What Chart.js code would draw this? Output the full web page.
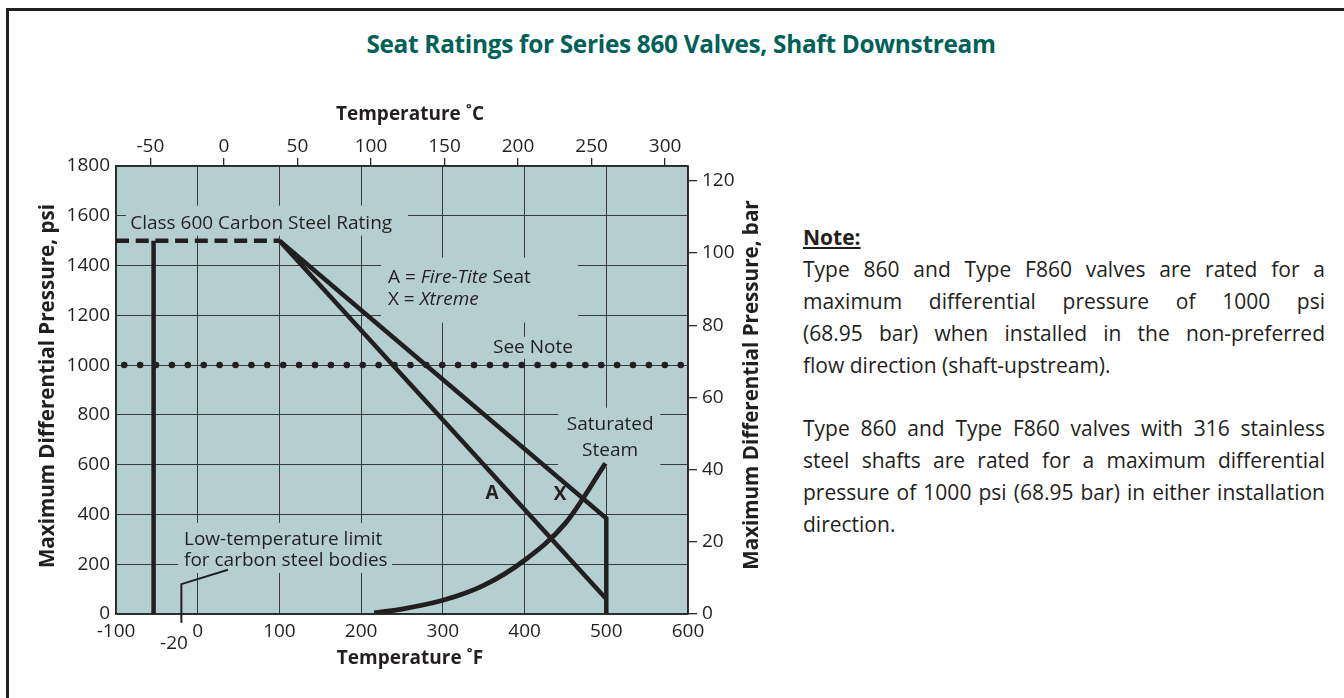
<!DOCTYPE html>
<html>
<head>
<meta charset="utf-8">
<script src="https://cdn.jsdelivr.net/npm/chart.js@4.4.0/dist/chart.umd.min.js"></script>
<style>
  html, body { margin:0; padding:0; }
  body { width:1344px; height:698px; background:#fff; position:relative; overflow:hidden; font-family:'Open Sans','Noto Sans',sans-serif; color:#231f20; }
  #frame { position:absolute; left:6px; top:8px; width:1400px; height:800px; border-left:3px solid #231f20; border-top:3px solid #231f20; }
  #title { position:absolute; top:29px; left:681px; transform:translateX(-50%); white-space:nowrap; font-weight:bold; font-size:25px; line-height:30px; color:#006159; letter-spacing:-0.3px; }
  #chartWrap { position:absolute; left:0; top:0; width:800px; height:698px; }
  #note { position:absolute; left:803px; top:221px; width:522px; font-size:21px; line-height:32px; color:#231f20; }
  #note .h { font-weight:bold; text-decoration:underline; }
  #note .j { text-align:justify; text-align-last:justify; white-space:nowrap; }
  #note .l { white-space:nowrap; }
  #note .gap { height:31px; }
</style>
</head>
<body>
<div id="frame"></div>
<div id="title">Seat Ratings for Series 860 Valves, Shaft Downstream</div>
<div id="chartWrap"><canvas id="c" width="800" height="698"></canvas></div>
<div id="note">
  <div class="h">Note:</div>
  <div class="j"><span>Type 860 and Type F860 valves are rated for a</span></div>
  <div class="j"><span>maximum differential pressure of 1000 psi</span></div>
  <div class="j"><span>(68.95 bar) when installed in the non-preferred</span></div>
  <div class="l"><span>flow direction (shaft-upstream).</span></div>
  <div class="gap"></div>
  <div class="j"><span>Type 860 and Type F860 valves with 316 stainless</span></div>
  <div class="j"><span>steel shafts are rated for a maximum differential</span></div>
  <div class="j"><span>pressure of 1000 psi (68.95 bar) in either installation</span></div>
  <div class="l"><span>direction.</span></div>
</div>
<script>
// ---------- data ----------
const tempFTicks = [-100, 0, 100, 200, 300, 400, 500, 600];
const tempCTicks = [-50, 0, 50, 100, 150, 200, 250, 300];
const psiTicks   = [0, 200, 400, 600, 800, 1000, 1200, 1400, 1600, 1800];
const barTicks   = [0, 20, 40, 60, 80, 100, 120];

const class600F   = [-100, 100];
const class600Psi = [1500, 1500];
const lowLimitF   = [-54, -54];
const lowLimitPsi = [1500, 0];
const seatAF      = [100, 500];
const seatAPsi    = [1500, 60];
const seatXF      = [100, 500, 500];
const seatXPsi    = [1500, 385, 0];
const steamF      = [216, 250, 300, 350, 400, 450, 499];
const steamPsi    = [5, 20, 55, 115, 216, 365, 605];
const noteF       = [-90, 592];
const notePsi     = [1000, 1000];
const leaderF     = [-20, -20, 37];
const leaderPsi   = [-35, 120, 178];

// ---------- helpers ----------
const FONT = "'Open Sans','Noto Sans',sans-serif";
const INK = '#231f20';
const PLOT_BG = '#b5cfd0';
const GRID = '#3a3a3a';
const PSI_PER_BAR = 14.5038;
const f2c = f => (f - 32) * 5 / 9;
const zip = (xs, ys) => xs.map((x, i) => ({x, y: ys[i]}));

// fit note lines and title widths
function fitLine(span, target) {
  const w = span.getBoundingClientRect().width;
  if (w > target) {
    const n = span.textContent.length;
    span.style.letterSpacing = ((target - w) / n - 0.03) + 'px';
  }
}
document.querySelectorAll('#note .j span').forEach(s => fitLine(s, 522));
(function(){
  const t = document.getElementById('title');
  const w = t.getBoundingClientRect().width;
  t.style.fontSize = (25 * 630 / w).toFixed(2) + 'px';
})();

// annotation labels inside the chart (anchored in data units)
const annotations = [
  {runs:[['Class 600 Carbon Steel Rating','normal']], f:-82.6, p:1569, align:'left'},
  {runs:[['A = ','normal'],['Fire-Tite','italic'],[' Seat','normal']], f:232.8, p:1352, align:'left'},
  {runs:[['X = ','normal'],['Xtreme','italic']], f:232.8, p:1263, align:'left'},
  {runs:[['See Note','normal']], f:361.4, p:1070, align:'left'},
  {runs:[['Saturated','normal']], f:504.7, p:760, align:'center'},
  {runs:[['Steam','normal']], f:504.7, p:656, align:'center'},
  {runs:[['A','bold']], f:360.2, p:483, align:'center'},
  {runs:[['X','bold']], f:443.4, p:479, align:'center'},
  {runs:[['Low-temperature limit','normal']], f:-16.8, p:298, align:'left'},
  {runs:[['for carbon steel bodies','normal']], f:-16.8, p:213, align:'left'},
  {runs:[['-20','normal']], f:-29, p:-120, align:'center'}
];
// areas where grid lines are interrupted by labels (data units)
const labelGaps = [
  {f1:-87.8, f2:257.4, p1:1641, p2:1520},
  {f1:224.3, f2:465.5, p1:1432, p2:1171},
  {f1:352.8, f2:467.9, p1:1114, p2:1026},
  {f1:441,   f2:566,   p1:829,  p2:591},
  {f1:-24,   f2:237.8, p1:366,  p2:165}
];

const plotBg = {
  id:'plotBg',
  beforeDraw(chart) {
    const {ctx, chartArea:a} = chart;
    ctx.save(); ctx.fillStyle = PLOT_BG;
    ctx.fillRect(a.left, a.top, a.right - a.left, a.bottom - a.top);
    ctx.restore();
  },
  beforeDatasetsDraw(chart) {
    const {ctx, scales:{x, y}} = chart;
    ctx.save(); ctx.fillStyle = PLOT_BG;
    labelGaps.forEach(g => {
      const x1 = x.getPixelForValue(g.f1), x2 = x.getPixelForValue(g.f2);
      const y1 = y.getPixelForValue(g.p1), y2 = y.getPixelForValue(g.p2);
      ctx.fillRect(x1, y1, x2 - x1, y2 - y1);
    });
    ctx.restore();
  },
  afterDatasetsDraw(chart) {
    const {ctx, scales:{x, y}} = chart;
    ctx.save();
    ctx.fillStyle = INK; ctx.textBaseline = 'middle'; ctx.textAlign = 'left';
    annotations.forEach(an => {
      const size = 19;
      let total = 0;
      an.runs.forEach(([t, st]) => { ctx.font = `${st} ${size}px ${FONT}`; total += ctx.measureText(t).width; });
      let px = x.getPixelForValue(an.f);
      if (an.align === 'center') px -= total / 2;
      const py = y.getPixelForValue(an.p);
      an.runs.forEach(([t, st]) => { ctx.font = `${st} ${size}px ${FONT}`; ctx.fillText(t, px, py); px += ctx.measureText(t).width; });
    });
    ctx.restore();
  },
  afterDraw(chart) {
    const {ctx} = chart;
    ctx.save();
    ctx.fillStyle = INK; ctx.font = `bold 19px ${FONT}`;
    ctx.textAlign = 'center'; ctx.textBaseline = 'middle';
    ctx.fillText('Temperature ˚C', 410, 115);
    ctx.fillText('Temperature ˚F', 410, 659);
    ctx.font = `bold 20.6px ${FONT}`;
    ctx.save(); ctx.translate(48, 386); ctx.rotate(-Math.PI / 2);
    ctx.fillText('Maximum Differential Pressure, psi', 0, 0); ctx.restore();
    ctx.save(); ctx.translate(752, 385); ctx.rotate(-Math.PI / 2);
    ctx.fillText('Maximum Differential Pressure, bar', 0, 0); ctx.restore();
    ctx.restore();
  }
};

const thick = { borderColor: INK, borderWidth: 4.5, pointRadius: 0, showLine: true, fill: false, borderCapStyle: 'butt', borderJoinStyle: 'miter' };
const tickFont = { family: FONT, size: 19 };
const plain = v => String(v);

new Chart(document.getElementById('c'), {
  type: 'scatter',
  data: {
    datasets: [
      { ...thick, label:'Class 600 Carbon Steel Rating', data: zip(class600F, class600Psi), borderDash:[13, 6.7] },
      { ...thick, label:'Low-temperature limit', data: zip(lowLimitF, lowLimitPsi) },
      { ...thick, label:'A = Fire-Tite Seat', data: zip(seatAF, seatAPsi) },
      { ...thick, label:'X = Xtreme', data: zip(seatXF, seatXPsi) },
      { ...thick, label:'Saturated Steam', data: zip(steamF, steamPsi), cubicInterpolationMode:'monotone', borderWidth:4.8 },
      { ...thick, label:'See Note', data: zip(noteF, notePsi), borderWidth:6.5, borderDash:[0.1, 15.8], borderCapStyle:'round' },
      { ...thick, label:'-20', data: zip(leaderF, leaderPsi), borderWidth:2, clip:false }
    ]
  },
  options: {
    responsive: false, animation: false, events: [],
    layout: { padding: 0 },
    plugins: { legend:{display:false}, tooltip:{enabled:false} },
    scales: {
      x: {
        type:'linear', position:'bottom', min:-100, max:600,
        afterBuildTicks: s => { s.ticks = tempFTicks.map(v => ({value:v})); },
        afterFit: s => { s.height = 84; },
        grid: { color: GRID, lineWidth: 1, drawTicks: false },
        border: { display: true, color: '#2a2a2a', width: 1.5 },
        ticks: { padding: 6, color: INK, font: tickFont, maxRotation: 0, autoSkip: false, callback: plain }
      },
      xC: {
        type:'linear', position:'top', min:f2c(-100), max:f2c(600),
        afterBuildTicks: s => { s.ticks = tempCTicks.map(v => ({value:v})); },
        afterFit: s => { s.height = 166; },
        grid: { drawOnChartArea: false, drawTicks: true, tickLength: 8, color: '#2a2a2a', lineWidth: 1.3 },
        border: { display: true, color: '#2a2a2a', width: 1.5 },
        ticks: { padding: 0, color: INK, font: tickFont, maxRotation: 0, autoSkip: false, callback: plain }
      },
      y: {
        type:'linear', position:'left', min:0, max:1800,
        afterBuildTicks: s => { s.ticks = psiTicks.map(v => ({value:v})); },
        afterFit: s => { s.width = 116; },
        grid: { color: GRID, lineWidth: 1, drawTicks: false },
        border: { display: true, color: '#2a2a2a', width: 1.5 },
        ticks: { padding: 6, color: INK, font: tickFont, autoSkip: false, callback: plain }
      },
      yBar: {
        type:'linear', position:'right', min:0, max:1800 / PSI_PER_BAR,
        afterBuildTicks: s => { s.ticks = barTicks.map(v => ({value:v})); },
        afterFit: s => { s.width = 112; },
        grid: { drawOnChartArea: false, drawTicks: true, tickLength: 9, color: '#2a2a2a', lineWidth: 1.3 },
        border: { display: true, color: '#2a2a2a', width: 1.5 },
        ticks: { padding: 5, color: INK, font: tickFont, autoSkip: false, callback: plain }
      }
    }
  },
  plugins: [plotBg]
});
</script>
</body>
</html>
